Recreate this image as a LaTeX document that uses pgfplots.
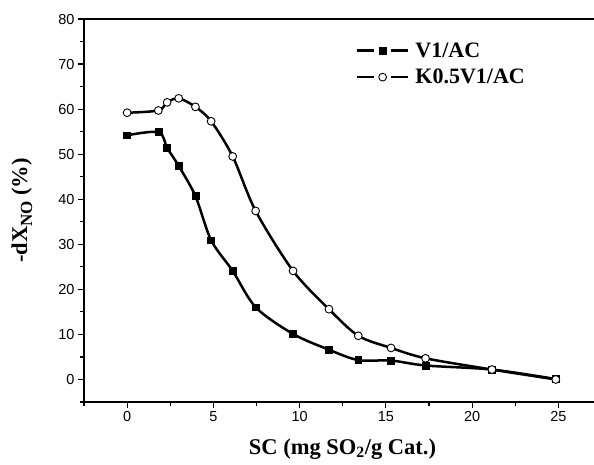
\documentclass[border=0pt]{standalone}
\usepackage{fontspec}
\setmainfont{Liberation Serif}
\newfontfamily\arial{Liberation Sans}
\usepackage{pgfplots}
\pgfplotsset{compat=1.18}
\begin{document}
\begin{tikzpicture}
\begin{axis}[
  at={(0pt,0pt)}, anchor=south west,
  scale only axis, width=517.5pt, height=383pt,
  xmin=-2.5, xmax=27.5, ymin=-5, ymax=80,
  xtick={0,5,...,25}, ytick={0,10,...,80},
  minor xtick={-2.5,2.5,7.5,12.5,17.5,22.5},
  minor ytick={-5,5,15,25,35,45,55,65,75},
  xtick pos=bottom, ytick pos=left,
  tick align=outside, major tick length=6pt, minor tick length=4pt,
  tick style={line width=1.2pt, black},
  axis line style={line width=1.5pt},
  /pgf/number format/assume math mode=true,
  ticklabel style={font=\arial\fontsize{14.5}{16}\selectfont},
  xlabel={SC (mg SO\textsubscript{2}/g Cat.)},
  ylabel={-dX{\fontsize{17}{18}\selectfont\raisebox{-5pt}{NO}} (\%)},
  label style={font=\bfseries\fontsize{22.5}{24}\selectfont},
  xlabel style={at={(axis description cs:0.4995,-0.1227)}, anchor=center},
  ylabel style={at={(axis description cs:-0.12,0.5)}, anchor=center},
  legend style={at={(axis description cs:0.525,0.947)}, anchor=north west,
    draw=none, fill=none, font=\bfseries\fontsize{22}{24}\selectfont,
    row sep=4.5pt, inner sep=0pt, nodes={inner sep=3pt}, cells={anchor=west}},
  legend image code/.code={
    \draw[#1,mark=none] (0pt,0pt)--(17pt,0pt);
    \draw[#1,mark=none] (34pt,0pt)--(51pt,0pt);
    \draw[#1] plot[only marks] coordinates {(25.5pt,0pt)};
    \path (54pt,0pt);
  },
]
\addplot[black, line width=2.5pt, smooth, mark=square*, mark size=3.4pt,
  mark options={solid, line width=0.6pt}]
coordinates {(0,54.2)(1.83,54.9)(2.32,51.4)(2.99,47.4)(3.96,40.7)(4.87,30.9)(6.12,24.1)(7.46,16.0)(9.62,10.1)(11.7,6.6)(13.4,4.3)(15.3,4.2)(17.3,3.1)(21.15,2.2)(24.85,0.1)};
\addlegendentry{V1/AC}
\addplot[black, line width=2.5pt, smooth, mark=*, mark size=3.9pt,
  mark options={solid, fill=white, line width=0.9pt}]
coordinates {(0,59.2)(1.81,59.7)(2.32,61.5)(2.99,62.4)(3.96,60.5)(4.87,57.3)(6.12,49.5)(7.45,37.4)(9.62,24.1)(11.7,15.6)(13.4,9.7)(15.3,7.0)(17.3,4.7)(21.15,2.2)(24.85,0.0)};
\addlegendentry{K0.5V1/AC}
\end{axis}
\pgfresetboundingbox
\useasboundingbox (-84pt,-62pt) rectangle (510pt,402pt);
\end{tikzpicture}
\end{document}
